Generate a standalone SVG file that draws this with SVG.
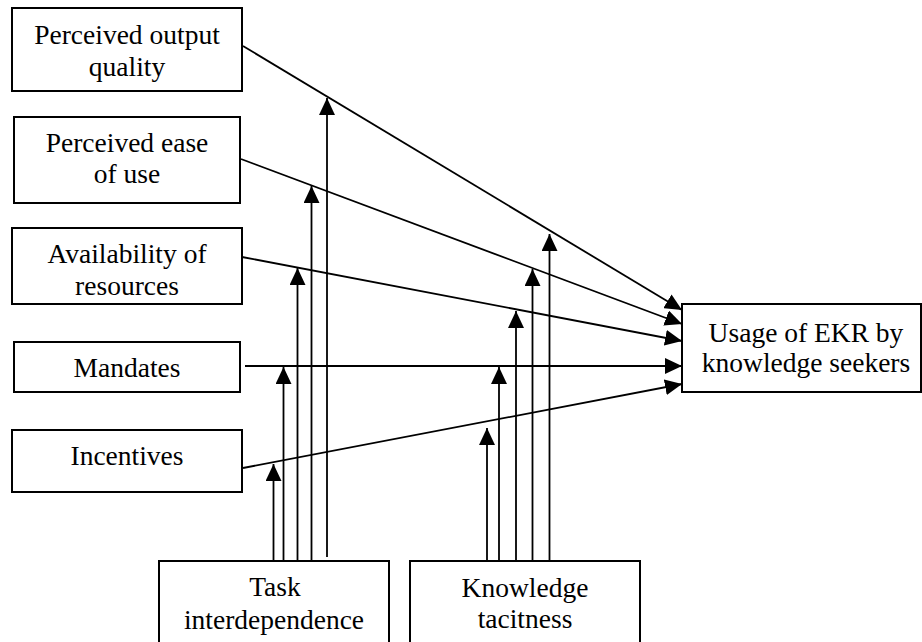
<svg xmlns="http://www.w3.org/2000/svg" width="922" height="642" viewBox="0 0 922 642">
<style>
.box{fill:#fff;stroke:#000;stroke-width:2}
.t{font-family:"Liberation Serif","Times New Roman",serif;font-size:27.5px;fill:#000;text-anchor:middle}
.c{stroke:#000;stroke-width:1.8;fill:none}
.a{marker-end:url(#ah)}
</style>
<defs>
<marker id="ah" markerUnits="userSpaceOnUse" markerWidth="18" markerHeight="16" refX="17" refY="8" orient="auto" viewBox="0 0 18 16">
<path d="M0,0 L17,8 L0,16 z" fill="#000"/>
</marker>
</defs>
<rect width="922" height="642" fill="#fff"/>
<g id="n-output">
<rect class="box" x="12" y="8" width="230" height="83"/>
<text class="t" x="127" y="44">Perceived output</text>
<text class="t" x="127" y="76">quality</text>
</g>
<g id="n-ease">
<rect class="box" x="14" y="117" width="226" height="86"/>
<text class="t" x="127" y="152">Perceived ease</text>
<text class="t" x="127" y="183">of use</text>
</g>
<g id="n-avail">
<rect class="box" x="12" y="228" width="230" height="76"/>
<text class="t" x="127" y="263">Availability of</text>
<text class="t" x="127" y="295">resources</text>
</g>
<g id="n-mandates">
<rect class="box" x="14" y="342" width="226" height="50"/>
<text class="t" x="127" y="377">Mandates</text>
</g>
<g id="n-incentives">
<rect class="box" x="12" y="430" width="230" height="62"/>
<text class="t" x="127" y="465">Incentives</text>
</g>
<g id="n-usage">
<rect class="box" x="682" y="304" width="239" height="88"/>
<text class="t" x="806" y="342">Usage of EKR by</text>
<text class="t" x="806" y="372">knowledge seekers</text>
</g>
<g id="n-task">
<path class="box" d="M159,645 V561 H389 V645"/>
<text class="t" x="275" y="596">Task</text>
<text class="t" x="274" y="629">interdependence</text>
</g>
<g id="n-tacit">
<path class="box" d="M410,645 V561 H640 V645"/>
<text class="t" x="525" y="597">Knowledge</text>
<text class="t" x="525" y="628">tacitness</text>
</g>
<g id="connectors">
<line class="c a" x1="243" y1="46" x2="682" y2="310"/>
<line class="c a" x1="241" y1="159" x2="682" y2="324"/>
<line class="c a" x1="242" y1="257" x2="682" y2="341"/>
<line class="c a" x1="245" y1="366" x2="682" y2="366"/>
<line class="c a" x1="243" y1="468" x2="682" y2="384"/>
<line class="c a" x1="273.5" y1="561" x2="273.5" y2="464"/>
<line class="c a" x1="283.5" y1="561" x2="283.5" y2="367"/>
<line class="c a" x1="297.5" y1="561" x2="297.5" y2="268"/>
<line class="c a" x1="311.5" y1="561" x2="311.5" y2="186"/>
<line class="c a" x1="327" y1="557" x2="327" y2="98"/>
<line class="c a" x1="487" y1="561" x2="487" y2="428"/>
<line class="c a" x1="499" y1="561" x2="499" y2="367"/>
<line class="c a" x1="516" y1="561" x2="516" y2="311"/>
<line class="c a" x1="532.5" y1="561" x2="532.5" y2="269"/>
<line class="c a" x1="549.5" y1="561" x2="549.5" y2="234"/>
</g>
</svg>
